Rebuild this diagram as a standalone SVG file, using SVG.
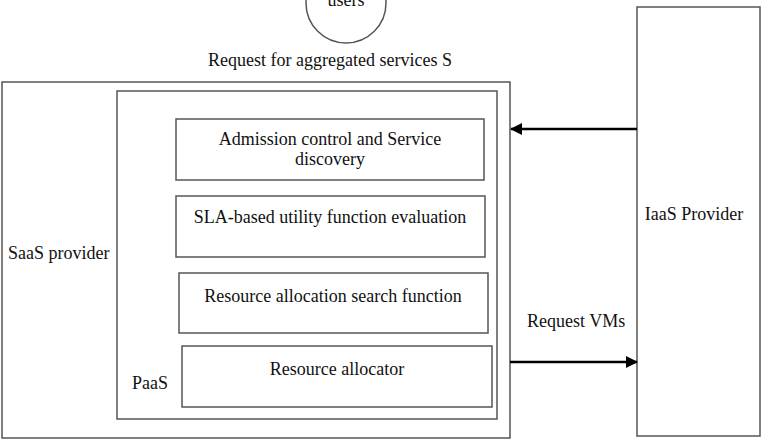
<svg xmlns="http://www.w3.org/2000/svg" width="767" height="446" viewBox="0 0 767 446">
<style>
.box{fill:#fff;stroke:#555;stroke-width:1.5}
text{font-family:'Liberation Serif','DejaVu Serif',serif;font-size:18px;fill:#111}
.m{text-anchor:middle}
.c{stroke:#000;stroke-width:2.5;fill:none}
</style>
<defs>
<marker id="ah" markerWidth="12" markerHeight="12" refX="11" refY="6" orient="auto" markerUnits="userSpaceOnUse"><path d="M0,0 L12,6 L0,12 Z" fill="#000"/></marker>
</defs>
<rect width="767" height="446" fill="#fff"/>
<g id="users"><circle class="box" cx="346" cy="3" r="40"/><text class="m" x="346" y="6">users</text></g>
<text class="m" x="330" y="66">Request for aggregated services S</text>
<g id="saas"><rect class="box" x="2" y="82" width="508" height="356"/><text x="8" y="259">SaaS provider</text></g>
<g id="paas"><rect class="box" x="117" y="91" width="380" height="328"/><text x="132" y="389">PaaS</text></g>
<g id="admission"><rect class="box" x="176" y="119" width="308" height="61"/><text class="m" x="330" y="145">Admission control and Service</text><text class="m" x="330" y="165">discovery</text></g>
<g id="sla"><rect class="box" x="176" y="196" width="309" height="61"/><text class="m" x="330" y="223">SLA-based utility function evaluation</text></g>
<g id="search"><rect class="box" x="179" y="273" width="309" height="60"/><text class="m" x="333" y="302">Resource allocation search function</text></g>
<g id="allocator"><rect class="box" x="182" y="346" width="310" height="61"/><text class="m" x="337" y="375">Resource allocator</text></g>
<g id="iaas"><rect class="box" x="637" y="7" width="123" height="429"/><text class="m" x="694" y="220">IaaS Provider</text></g>
<g id="connectors">
<line class="c" x1="637" y1="129" x2="511" y2="129" marker-end="url(#ah)"/>
<line class="c" x1="510" y1="362" x2="637" y2="362" marker-end="url(#ah)"/>
<text x="527" y="327">Request VMs</text>
</g>
</svg>
